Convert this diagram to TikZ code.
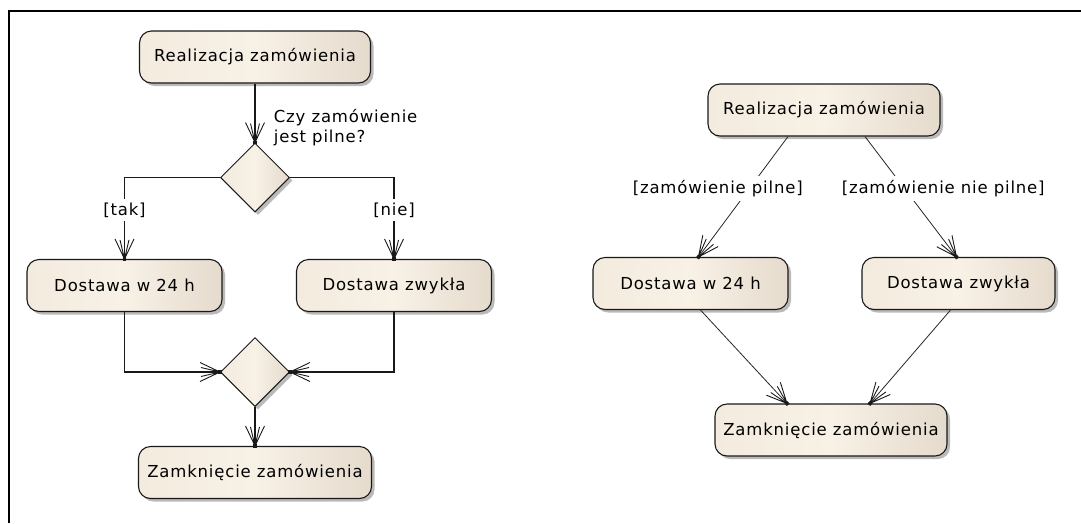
\documentclass[tikz,border=0pt]{standalone}
\usepackage{fontspec}
\usetikzlibrary{shapes.geometric,shadows,decorations.markings}
\newfontfamily\umlfont[LetterSpace=5]{DejaVu Sans}
\definecolor{fillL}{RGB}{243,235,222}
\definecolor{fillM}{RGB}{248,241,230}
\definecolor{fillR}{RGB}{229,219,205}
\definecolor{edgeC}{RGB}{25,25,25}

\begin{document}
\begin{tikzpicture}[x=1pt,y=-1pt,
  every node/.style={font=\umlfont\fontsize{16.5}{20}\selectfont, text=black},
  softshadow/.style={drop shadow={shadow xshift=3pt, shadow yshift=-3pt, fill=black!45, opacity=0.6}},
  act/.style={draw=edgeC, line width=1.1pt, rounded corners=12pt,
    left color=fillL, right color=fillR, middle color=fillM,
    minimum height=52pt, inner sep=0pt, softshadow},
  decision/.style={diamond, aspect=1, draw=edgeC, line width=1pt,
    left color=fillL, right color=fillR, middle color=fillM,
    minimum width=69pt, minimum height=69pt, inner sep=0pt, softshadow},
  fan/.style={postaction={decorate, decoration={markings, mark=at position 1 with {
      \draw[line width=0.9pt, edgeC] (-20,9.5) -- (0,0) -- (-20,-9.5)
                                     (-19,4.5) -- (0,0) -- (-19,-4.5);
      \fill[edgeC] (-1.8,-1.8) rectangle (1.8,1.8);}}}},
  flow/.style={draw=edgeC, line width=1.1pt, fan},
  thinflow/.style={draw=black!85, line width=0.8pt, fan},
  guard/.style={fill=white, inner xsep=2pt, inner ysep=4pt}
]
\useasboundingbox (0,0) rectangle (1081,523);

% outer frame
\draw[line width=2pt] (9,523) -- (9,11) -- (1081,11);

% ---- decision-node variant ----
\node[act, minimum width=231pt] (L1) at (255,57) {Realizacja zamówienia};
\node[decision] (LD1) at (255,177.5) {};
\node[act, minimum width=195pt] (LA) at (124.5,285.5) {Dostawa w 24 h};
\node[act, minimum width=195pt] (LB) at (394,285.5) {Dostawa zwykła};
\node[decision] (LD2) at (255,372) {};
\node[act, minimum width=233pt] (LZ) at (255,472.5) {Zamknięcie zamówienia};

\draw[flow] (L1) -- (LD1)
  node[pos=0.75, anchor=west, xshift=15pt, align=left] {Czy zamówienie\\jest pilne?};
\draw[flow] (LD1.west) -| node[pos=0.7, guard] {[tak]} (LA.north);
\draw[flow] (LD1.east) -| node[pos=0.7, guard] {[nie]} (LB.north);
\draw[flow] (LA.south) |- (LD2.west);
\draw[flow] (LB.south) |- (LD2.east);
\draw[flow] (LD2) -- (LZ);

% ---- guarded-flow variant ----
\node[act, minimum width=232pt] (R1) at (824,110) {Realizacja zamówienia};
\node[act, minimum width=195pt] (RA) at (690.5,283.5) {Dostawa w 24 h};
\node[act, minimum width=193pt] (RB) at (958.5,283.5) {Dostawa zwykła};
\node[act, minimum width=232pt] (RZ) at (831,430) {Zamknięcie zamówienia};

\draw[thinflow] ([xshift=-36pt]R1.south) -- ([xshift=8pt]RA.north)
  node[pos=0.45, guard, xshift=-30pt, yshift=2pt] {[zamówienie pilne]};
\draw[thinflow] ([xshift=41pt]R1.south) -- ([xshift=-2pt]RB.north)
  node[pos=0.45, guard, xshift=37pt, yshift=2pt] {[zamówienie nie pilne]};
\draw[thinflow] ([xshift=10pt]RA.south) -- ([xshift=-44pt]RZ.north);
\draw[thinflow] ([xshift=-8pt]RB.south) -- ([xshift=39pt]RZ.north);
\end{tikzpicture}
\end{document}
